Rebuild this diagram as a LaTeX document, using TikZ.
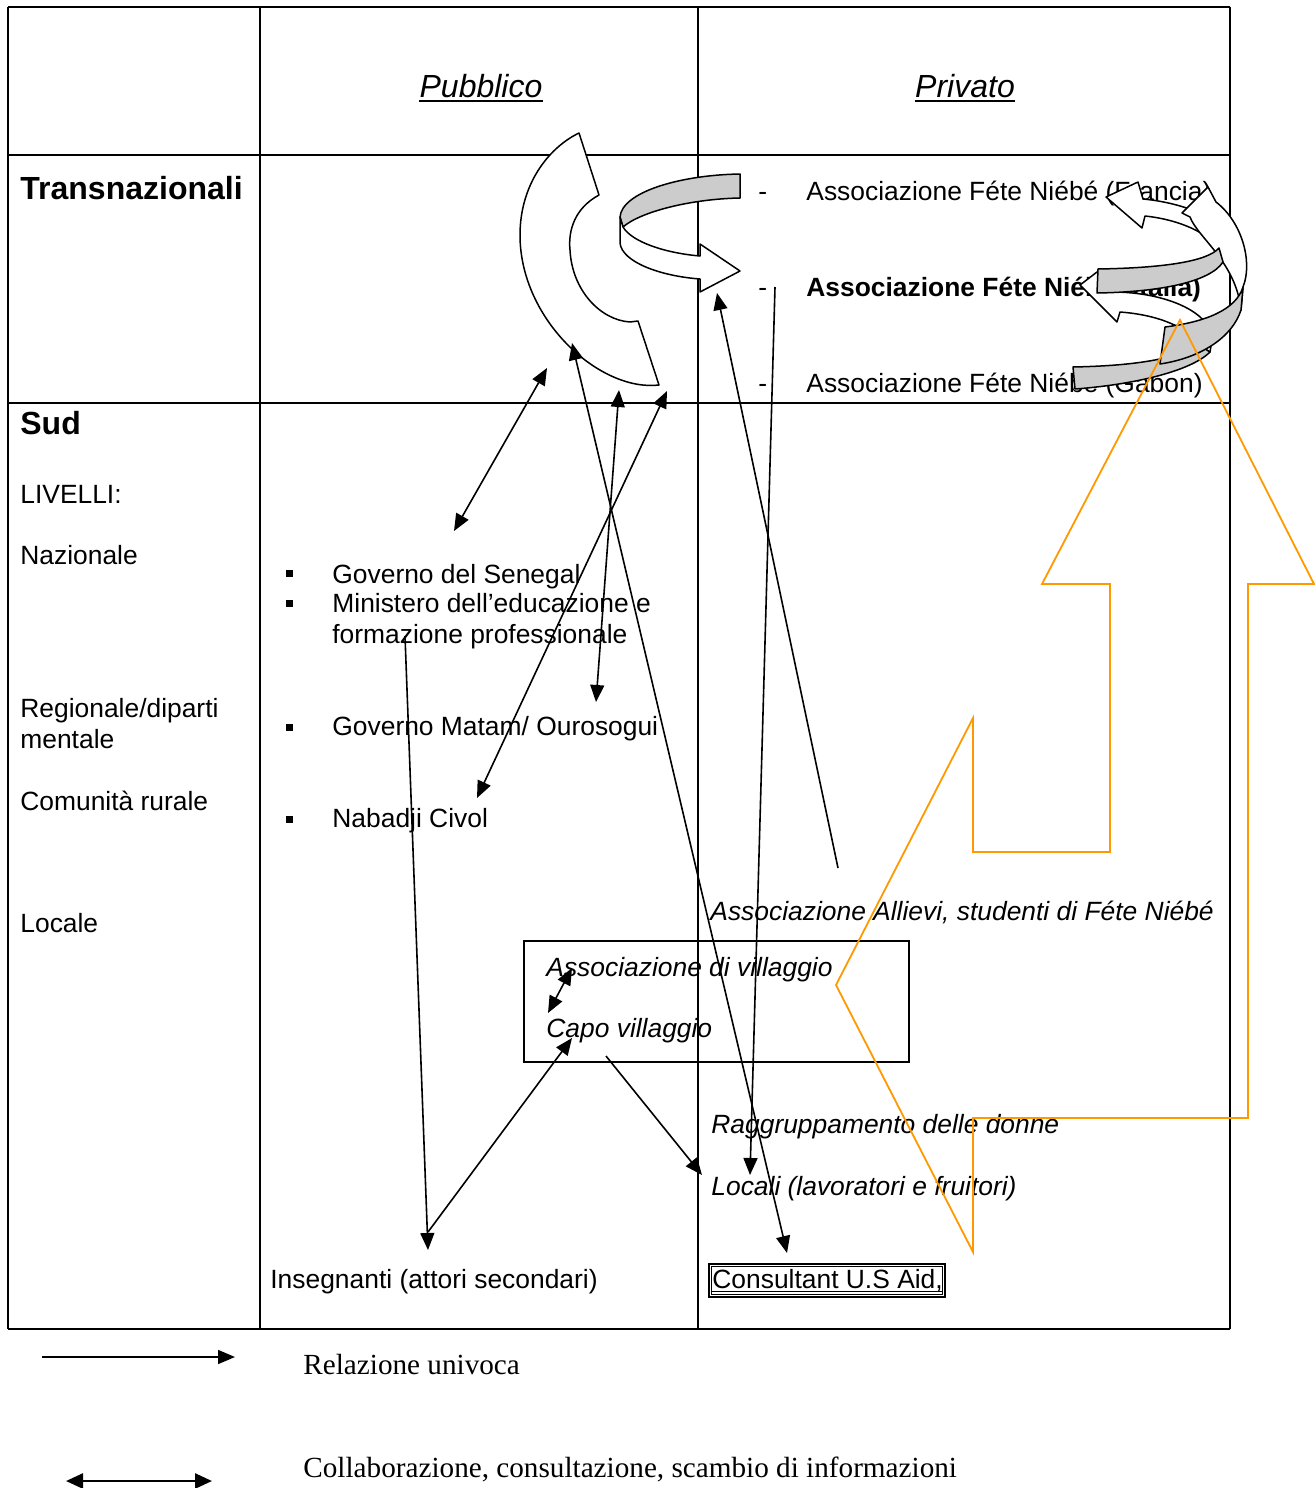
\documentclass[tikz,border=0pt]{standalone}
\usepackage{fontspec}
\setmainfont{Liberation Sans}
\newfontfamily\legendfont{Liberation Serif}
\usetikzlibrary{arrows.meta}
\definecolor{bandgray}{RGB}{204,204,204}
\definecolor{arroworange}{RGB}{255,153,0}
\begin{document}
\begin{tikzpicture}[x=0.5pt,y=-0.5pt,
  rule/.style={line width=1pt},
  body/.style={anchor=base west, inner sep=0pt, font=\fontsize{13.2}{16}\selectfont},
  bodyit/.style={anchor=base west, inner sep=0pt, font=\fontsize{13.2}{16}\selectfont\itshape},
  bodybf/.style={anchor=base west, inner sep=0pt, font=\fontsize{13.2}{16}\selectfont\bfseries},
  rowhead/.style={anchor=base west, inner sep=0pt, font=\fontsize{16}{19}\selectfont\bfseries},
  colhead/.style={anchor=base, inner sep=0pt, font=\fontsize{16}{19}\selectfont\itshape},
  legendtext/.style={anchor=base west, inner sep=0pt, font=\legendfont\fontsize{14.6}{17}\selectfont},
  bulletmark/.style={fill, inner sep=0pt, minimum size=3.5pt},
  >={Triangle[length=8.5pt,width=7pt]},
  one/.style={line width=0.8pt, ->},
  two/.style={line width=0.8pt, <->},
  band/.style={draw, line width=0.75pt, fill=white, line join=round},
  backband/.style={band, fill=bandgray},
  bigarrow/.style={draw=arroworange, line width=0.9pt, line join=miter},
]
\useasboundingbox (0,0) rectangle (1314,1488);

% ---------- table grid ----------
\draw[rule] (8,7) -- (1230,7);
\draw[rule] (8,155) -- (1230,155);
\draw[rule] (8,403) -- (1230,403);
\draw[rule] (8,1329) -- (1230,1329);
\foreach \cx in {8,260,698,1230} \draw[rule] (\cx,7) -- (\cx,1329);

% ---------- column headings ----------
\node[colhead] (pub) at (481,97) {Pubblico};
\draw[line width=1.1pt] ([yshift=-1.9pt]pub.base west) -- ([yshift=-1.9pt]pub.base east);
\node[colhead] (priv) at (965,97) {Privato};
\draw[line width=1.1pt] ([yshift=-1.9pt]priv.base west) -- ([yshift=-1.9pt]priv.base east);

% ---------- row headings and levels ----------
\node[rowhead] (trans) at (20,199) {Transnazionali};
\node[rowhead] (sud) at (20,434) {Sud};
\node[body] (liv) at (20,503) {LIVELLI:};
\node[body] (naz) at (20,564) {Nazionale};
\node[body] (reg1) at (20,717) {Regionale/diparti};
\node[body] (reg2) at (20,748) {mentale};
\node[body] (com) at (20,810) {Comunità rurale};
\node[body] (loc) at (20,932) {Locale};

% ---------- public actors ----------
\node[bulletmark] (b1) at (289,573) {};
\node[bulletmark] (b2) at (289,603) {};
\node[bulletmark] (b3) at (289,727) {};
\node[bulletmark] (b4) at (289,819) {};
\node[body] (gsen) at (332,583) {Governo del Senegal};
\node[body] (min1) at (332,612) {Ministero dell’educazione e};
\node[body] (min2) at (332,643) {formazione professionale};
\node[body] (gmat) at (332,735) {Governo Matam/ Ourosogui};
\node[body] (nab) at (332,827) {Nabadji Civol};
\node[body] (ins) at (270,1288) {Insegnanti (attori secondari)};

% ---------- private actors ----------
\node[body] (d1) at (758,200) {-};
\node[body] (d2) at (758,296) {-};
\node[body] (d3) at (758,392) {-};
\node[body] (fra) at (806,200) {Associazione Féte Niébé (Francia)};
\node[bodybf] (ita) at (806,296) {Associazione Féte Niébé (Italia)};
\node[body] (gab) at (806,392) {Associazione Féte Niébé (Gabon)};
\node[bodyit] (all) at (710,920) {Associazione Allievi, studenti di Féte Niébé};
\node[draw, line width=0.75pt, inner sep=0pt, minimum width=192.5pt, minimum height=60.5pt] (vbox) at (716.5,1001.5) {};
\node[bodyit] (avil) at (546,976) {Associazione di villaggio};
\node[bodyit] (capo) at (546,1037) {Capo villaggio};
\node[bodyit] (rag) at (711,1133) {Raggruppamento delle donne};
\node[bodyit] (locali) at (711,1195) {Locali (lavoratori e fruitori)};
\node[body] (cons) at (712,1288) {Consultant U.S Aid,};
\draw[line width=0.6pt] ([yshift=-1.8pt]cons.base west) -- ([yshift=-1.8pt]cons.base east);
\draw[line width=1pt] (709,1264) rectangle (945,1297);
\draw[line width=0.5pt] (711.5,1266.5) rectangle (942.5,1294.5);

% ---------- crescent between the two levels ----------
\path[band] (579,133) -- (599,195)
  .. controls (575,208) and (568,230) .. (570,250)
  .. controls (572,290) and (600,320) .. (630,322) -- (638,321) -- (659,385)
  .. controls (600,392) and (520,320) .. (520,235)
  .. controls (520,185) and (548,148) .. (579,133) -- cycle;

% ---------- curved arrow from the public to the private column ----------
\path[backband] (740,174) .. controls (680,175) and (622,192) .. (620,217)
  -- (623,227) .. controls (640,212) and (690,199) .. (740,198) -- cycle;
\path[band] (620,217) -- (620,243) .. controls (622,262) and (660,276) .. (700,279)
  -- (700,292) -- (740,271) -- (700,244) -- (700,256)
  .. controls (665,253) and (632,242) .. (623,227) -- cycle;

% ---------- curved arrows among the associations ----------
% Gabon -> Italia
\path[backband] (1073,367) .. controls (1120,366) and (1170,362) .. (1200,345)
  -- (1210,352) .. controls (1190,372) and (1130,385) .. (1075,389) -- cycle;
\path[band] (1080,285) -- (1097,272) -- (1112,292)
  .. controls (1165,292) and (1212,312) .. (1212,340) -- (1210,352) -- (1200,345)
  .. controls (1188,328) and (1160,315) .. (1120,312) -- (1117,322) -- cycle;
% Italia -> Francia
\path[band] (1106,197) -- (1138,182) -- (1143,199)
  .. controls (1185,203) and (1228,220) .. (1232,245) -- (1223,262) -- (1219,248)
  .. controls (1208,234) and (1182,220) .. (1145,216) -- (1142,228) -- cycle;
% upward arrow on the right
\path[band] (1243,287) .. controls (1253,262) and (1242,222) .. (1216,202)
  -- (1208,187) -- (1182,213) -- (1190,217)
  .. controls (1198,238) and (1236,262) .. (1241,310) -- cycle;
\path[backband] (1165,327) .. controls (1205,322) and (1236,310) .. (1243,287)
  -- (1241,310) .. controls (1232,338) and (1200,358) .. (1160,364) -- cycle;
\path[backband] (1098,269) .. controls (1160,268) and (1207,262) .. (1219,248)
  -- (1223,262) .. controls (1210,282) and (1160,292) .. (1097,293) -- cycle;

% ---------- connector end points ----------
\coordinate (c1a) at (454,531);  \coordinate (c1b) at (547,368);
\coordinate (c2a) at (596,702);  \coordinate (c2b) at (619,390);
\coordinate (c3a) at (477,798);  \coordinate (c3b) at (667,391);
\coordinate (c4a) at (572,343);  \coordinate (c4b) at (787,1253);
\coordinate (c5a) at (838,868);  \coordinate (c5b) at (717,293);
\coordinate (c6a) at (775,287);  \coordinate (c6b) at (750,1175);
\coordinate (c7a) at (405,636);  \coordinate (c7b) at (428,1250);
\coordinate (c8a) at (428,1232); \coordinate (c8b) at (572,1038);
\coordinate (c9a) at (572,968);  \coordinate (c9b) at (548,1013);
\coordinate (c10a) at (606,1056); \coordinate (c10b) at (702,1175);

% ---------- connectors ----------
\draw[two] (c1a) -- (c1b);
\draw[two] (c2a) -- (c2b);
\draw[two] (c3a) -- (c3b);
\draw[two] (c4a) -- (c4b);
\draw[one] (c5a) -- (c5b);
\draw[one] (c6a) -- (c6b);
\draw[one] (c7a) -- (c7b);
\draw[one] (c8a) -- (c8b);
\draw[two] (c9a) -- (c9b);
\draw[one] (c10a) -- (c10b);

% ---------- orange block arrow ----------
\draw[bigarrow] (1180,320) -- (1314,584) -- (1248,584) -- (1248,1118) -- (973,1118)
  -- (973,1252) -- (836,985) -- (973,718) -- (973,852) -- (1110,852) -- (1110,584)
  -- (1042,584) -- cycle;

% ---------- legend ----------
\coordinate (k1a) at (42,1357);  \coordinate (k1b) at (235,1357);
\coordinate (k2a) at (66,1481);  \coordinate (k2b) at (212,1481);
\draw[one] (k1a) -- (k1b);
\node[legendtext] (k1t) at (303,1374) {Relazione univoca};
\draw[line width=1.3pt, {Triangle[length=8.5pt,width=7.5pt]}-{Triangle[length=8.5pt,width=7.5pt]}] (k2a) -- (k2b);
\node[legendtext] (k2t) at (303,1477) {Collaborazione, consultazione, scambio di informazioni};
\end{tikzpicture}
\end{document}
